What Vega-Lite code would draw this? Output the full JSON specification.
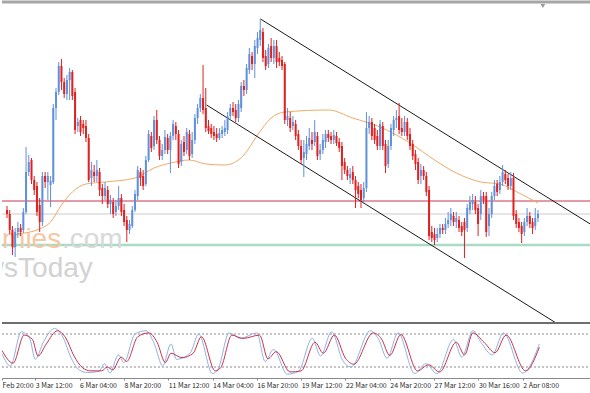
{
"$schema": "https://vega.github.io/schema/vega-lite/v6.json",
"padding": 0,
"spacing": 0,
"background": "white",
"config": {"view": {"stroke": null}, "font": "Liberation Sans"},
"datasets": {
"candles": [
{"i":0,"o":112,"h":116,"l":104,"c":108},{"i":1,"o":108,"h":112,"l":88,"c":92},{"i":2,"o":92,"h":96,"l":67,"c":75},{"i":3,"o":75,"h":94,"l":65,"c":90},{"i":4,"o":90,"h":100,"l":84,"c":94},{"i":5,"o":94,"h":98,"l":86,"c":90},{"i":6,"o":92,"h":114,"l":89,"c":110},{"i":7,"o":110,"h":175,"l":108,"c":150},{"i":8,"o":150,"h":167,"l":146,"c":160},{"i":9,"o":162,"h":164,"l":138,"c":142},
{"i":10,"o":142,"h":146,"l":127,"c":132},{"i":11,"o":136,"h":140,"l":106,"c":110},{"i":12,"o":117,"h":124,"l":90,"c":100},{"i":13,"o":100,"h":150,"l":96,"c":146},{"i":14,"o":146,"h":150,"l":134,"c":140},{"i":15,"o":140,"h":150,"l":122,"c":146},{"i":16,"o":137,"h":146,"l":115,"c":141},{"i":17,"o":140,"h":218,"l":138,"c":214},{"i":18,"o":214,"h":234,"l":202,"c":230},{"i":19,"o":230,"h":260,"l":227,"c":256},
{"i":20,"o":256,"h":263,"l":232,"c":240},{"i":21,"o":240,"h":244,"l":224,"c":228},{"i":22,"o":228,"h":247,"l":222,"c":242},{"i":23,"o":242,"h":254,"l":222,"c":250},{"i":24,"o":250,"h":252,"l":222,"c":226},{"i":25,"o":230,"h":234,"l":188,"c":192},{"i":26,"o":196,"h":204,"l":190,"c":200},{"i":27,"o":202,"h":206,"l":186,"c":190},{"i":28,"o":198,"h":202,"l":188,"c":194},{"i":29,"o":196,"h":202,"l":180,"c":184},
{"i":30,"o":184,"h":188,"l":140,"c":142},{"i":31,"o":144,"h":160,"l":136,"c":152},{"i":32,"o":150,"h":157,"l":140,"c":146},{"i":33,"o":146,"h":162,"l":140,"c":152},{"i":34,"o":150,"h":154,"l":126,"c":132},{"i":35,"o":134,"h":138,"l":118,"c":126},{"i":36,"o":126,"h":140,"l":122,"c":134},{"i":37,"o":132,"h":136,"l":114,"c":118},{"i":38,"o":118,"h":127,"l":108,"c":122},{"i":39,"o":120,"h":124,"l":104,"c":108},
{"i":40,"o":110,"h":122,"l":106,"c":116},{"i":41,"o":116,"h":136,"l":112,"c":124},{"i":42,"o":124,"h":128,"l":106,"c":110},{"i":43,"o":112,"h":118,"l":96,"c":100},{"i":44,"o":102,"h":106,"l":80,"c":92},{"i":45,"o":92,"h":102,"l":88,"c":98},{"i":46,"o":96,"h":116,"l":94,"c":112},{"i":47,"o":112,"h":132,"l":110,"c":128},{"i":48,"o":126,"h":156,"l":122,"c":152},{"i":49,"o":150,"h":154,"l":136,"c":144},
{"i":50,"o":146,"h":152,"l":132,"c":136},{"i":51,"o":138,"h":166,"l":136,"c":162},{"i":52,"o":162,"h":192,"l":160,"c":188},{"i":53,"o":186,"h":190,"l":170,"c":174},{"i":54,"o":176,"h":206,"l":172,"c":202},{"i":55,"o":202,"h":212,"l":178,"c":182},{"i":56,"o":182,"h":186,"l":162,"c":166},{"i":57,"o":166,"h":178,"l":162,"c":172},{"i":58,"o":172,"h":192,"l":168,"c":185},{"i":59,"o":184,"h":188,"l":168,"c":172},
{"i":60,"o":172,"h":190,"l":149,"c":186},{"i":61,"o":186,"h":202,"l":182,"c":198},{"i":62,"o":196,"h":200,"l":182,"c":188},{"i":63,"o":188,"h":192,"l":154,"c":158},{"i":64,"o":160,"h":182,"l":156,"c":178},{"i":65,"o":180,"h":186,"l":166,"c":170},{"i":66,"o":172,"h":194,"l":168,"c":190},{"i":67,"o":188,"h":192,"l":162,"c":166},{"i":68,"o":168,"h":190,"l":164,"c":182},{"i":69,"o":182,"h":208,"l":178,"c":204},
{"i":70,"o":204,"h":218,"l":198,"c":214},{"i":71,"o":214,"h":228,"l":210,"c":224},{"i":72,"o":224,"h":257,"l":208,"c":212},{"i":73,"o":214,"h":234,"l":190,"c":194},{"i":74,"o":196,"h":202,"l":188,"c":191},{"i":75,"o":194,"h":198,"l":184,"c":188},{"i":76,"o":190,"h":196,"l":182,"c":186},{"i":77,"o":188,"h":194,"l":180,"c":184},{"i":78,"o":184,"h":194,"l":182,"c":189},{"i":79,"o":188,"h":196,"l":184,"c":192},
{"i":80,"o":190,"h":202,"l":186,"c":194},{"i":81,"o":192,"h":210,"l":188,"c":206},{"i":82,"o":206,"h":218,"l":202,"c":214},{"i":83,"o":214,"h":220,"l":206,"c":210},{"i":84,"o":212,"h":218,"l":200,"c":204},{"i":85,"o":204,"h":222,"l":200,"c":218},{"i":86,"o":214,"h":240,"l":210,"c":236},{"i":87,"o":236,"h":242,"l":226,"c":232},{"i":88,"o":232,"h":258,"l":228,"c":254},{"i":89,"o":252,"h":274,"l":248,"c":268},
{"i":90,"o":266,"h":270,"l":252,"c":258},{"i":91,"o":258,"h":282,"l":244,"c":276},{"i":92,"o":274,"h":290,"l":268,"c":284},{"i":93,"o":282,"h":303,"l":276,"c":292},{"i":94,"o":290,"h":294,"l":260,"c":264},{"i":95,"o":266,"h":272,"l":252,"c":256},{"i":96,"o":258,"h":278,"l":254,"c":274},{"i":97,"o":276,"h":284,"l":260,"c":264},{"i":98,"o":264,"h":282,"l":258,"c":276},{"i":99,"o":276,"h":282,"l":254,"c":260},
{"i":100,"o":264,"h":270,"l":256,"c":260},{"i":101,"o":262,"h":266,"l":252,"c":256},{"i":102,"o":258,"h":260,"l":198,"c":202},{"i":103,"o":202,"h":214,"l":196,"c":206},{"i":104,"o":204,"h":210,"l":190,"c":194},{"i":105,"o":196,"h":206,"l":192,"c":200},{"i":106,"o":198,"h":202,"l":182,"c":186},{"i":107,"o":188,"h":192,"l":172,"c":176},{"i":108,"o":176,"h":182,"l":158,"c":162},{"i":109,"o":164,"h":182,"l":145,"c":170},
{"i":110,"o":168,"h":186,"l":162,"c":178},{"i":111,"o":176,"h":194,"l":172,"c":184},{"i":112,"o":182,"h":190,"l":172,"c":178},{"i":113,"o":180,"h":202,"l":176,"c":190},{"i":114,"o":186,"h":190,"l":162,"c":166},{"i":115,"o":168,"h":178,"l":162,"c":172},{"i":116,"o":172,"h":188,"l":168,"c":182},{"i":117,"o":180,"h":192,"l":174,"c":188},{"i":118,"o":188,"h":192,"l":180,"c":184},{"i":119,"o":186,"h":190,"l":178,"c":182},
{"i":120,"o":182,"h":192,"l":178,"c":187},{"i":121,"o":186,"h":190,"l":176,"c":179},{"i":122,"o":180,"h":184,"l":170,"c":174},{"i":123,"o":176,"h":180,"l":142,"c":156},{"i":124,"o":160,"h":164,"l":148,"c":152},{"i":125,"o":152,"h":156,"l":142,"c":146},{"i":126,"o":144,"h":154,"l":138,"c":148},{"i":127,"o":150,"h":156,"l":138,"c":142},{"i":128,"o":142,"h":146,"l":114,"c":132},{"i":129,"o":136,"h":140,"l":124,"c":128},
{"i":130,"o":132,"h":138,"l":114,"c":122},{"i":131,"o":124,"h":140,"l":118,"c":134},{"i":132,"o":134,"h":210,"l":130,"c":194},{"i":133,"o":194,"h":206,"l":188,"c":200},{"i":134,"o":200,"h":204,"l":182,"c":186},{"i":135,"o":194,"h":198,"l":178,"c":182},{"i":136,"o":186,"h":192,"l":172,"c":176},{"i":137,"o":176,"h":202,"l":172,"c":198},{"i":138,"o":196,"h":200,"l":172,"c":176},{"i":139,"o":178,"h":182,"l":149,"c":156},
{"i":140,"o":158,"h":182,"l":154,"c":176},{"i":141,"o":176,"h":198,"l":172,"c":194},{"i":142,"o":192,"h":206,"l":186,"c":202},{"i":143,"o":202,"h":212,"l":194,"c":204},{"i":144,"o":206,"h":219,"l":188,"c":192},{"i":145,"o":194,"h":204,"l":186,"c":190},{"i":146,"o":190,"h":206,"l":186,"c":200},{"i":147,"o":200,"h":204,"l":182,"c":186},{"i":148,"o":188,"h":194,"l":172,"c":176},{"i":149,"o":178,"h":182,"l":162,"c":166},
{"i":150,"o":168,"h":172,"l":152,"c":158},{"i":151,"o":160,"h":164,"l":138,"c":142},{"i":152,"o":146,"h":158,"l":138,"c":152},{"i":153,"o":152,"h":156,"l":142,"c":146},{"i":154,"o":146,"h":150,"l":126,"c":130},{"i":155,"o":132,"h":136,"l":82,"c":86},{"i":156,"o":90,"h":96,"l":80,"c":84},{"i":157,"o":88,"h":94,"l":77,"c":82},{"i":158,"o":84,"h":94,"l":80,"c":88},{"i":159,"o":88,"h":98,"l":84,"c":94},
{"i":160,"o":94,"h":98,"l":88,"c":92},{"i":161,"o":92,"h":104,"l":88,"c":98},{"i":162,"o":98,"h":110,"l":94,"c":102},{"i":163,"o":102,"h":114,"l":96,"c":108},{"i":164,"o":106,"h":110,"l":96,"c":100},{"i":165,"o":100,"h":110,"l":94,"c":104},{"i":166,"o":102,"h":106,"l":90,"c":94},{"i":167,"o":96,"h":100,"l":86,"c":90},{"i":168,"o":100,"h":104,"l":64,"c":92},{"i":169,"o":94,"h":118,"l":90,"c":114},
{"i":170,"o":112,"h":126,"l":108,"c":120},{"i":171,"o":118,"h":128,"l":112,"c":122},{"i":172,"o":120,"h":126,"l":108,"c":112},{"i":173,"o":114,"h":118,"l":86,"c":98},{"i":174,"o":108,"h":132,"l":102,"c":126},{"i":175,"o":126,"h":130,"l":118,"c":122},{"i":176,"o":126,"h":130,"l":85,"c":90},{"i":177,"o":96,"h":114,"l":86,"c":108},{"i":178,"o":108,"h":130,"l":104,"c":126},{"i":179,"o":126,"h":142,"l":122,"c":136},
{"i":180,"o":138,"h":142,"l":126,"c":130},{"i":181,"o":132,"h":146,"l":128,"c":140},{"i":182,"o":140,"h":157,"l":136,"c":150},{"i":183,"o":148,"h":152,"l":138,"c":142},{"i":184,"o":144,"h":148,"l":132,"c":136},{"i":185,"o":136,"h":150,"l":132,"c":144},{"i":186,"o":144,"h":149,"l":102,"c":106},{"i":187,"o":108,"h":112,"l":94,"c":98},{"i":188,"o":100,"h":104,"l":90,"c":94},{"i":189,"o":96,"h":100,"l":79,"c":88},
{"i":190,"o":90,"h":104,"l":86,"c":100},{"i":191,"o":100,"h":114,"l":96,"c":106},{"i":192,"o":106,"h":110,"l":94,"c":98},{"i":193,"o":100,"h":104,"l":88,"c":94},{"i":194,"o":96,"h":114,"l":92,"c":104},{"i":195,"o":104,"h":112,"l":100,"c":108}
],
"ma": [
{"i":3.6,"v":88},{"i":12,"v":93},{"i":16,"v":100},{"i":20,"v":117},{"i":24,"v":130},{"i":29,"v":138},{"i":36,"v":140},{"i":47,"v":144},{"i":54,"v":154},{"i":60,"v":159},{"i":67,"v":162},{"i":73,"v":158},{"i":80,"v":157},{"i":87,"v":167},{"i":92,"v":187},{"i":97,"v":204},{"i":102,"v":210},{"i":118,"v":212},{"i":127,"v":204},{"i":137,"v":195},{"i":148,"v":179},{"i":157,"v":162},{"i":165,"v":149},{"i":174,"v":140},{"i":181,"v":138},{"i":188,"v":129},{"i":195,"v":119}
],
"channel": [
{"line":"upper","i":93.1,"p":303},{"line":"upper","i":215,"p":96.6},
{"line":"lower","i":73.3,"p":217},{"line":"lower","i":204,"p":-5}
],
"stoch": [
{"s":"K","i":0,"v":44},{"s":"K","i":3,"v":22},{"s":"K","i":7,"v":84},{"s":"K","i":10,"v":72},{"s":"K","i":12,"v":34},{"s":"K","i":15,"v":66},{"s":"K","i":19,"v":90},{"s":"K","i":22,"v":74},{"s":"K","i":25,"v":36},{"s":"K","i":28,"v":14},{"s":"K","i":31,"v":10},{"s":"K","i":35,"v":12},{"s":"K","i":37,"v":26},{"s":"K","i":39,"v":9},{"s":"K","i":42,"v":42},{"s":"K","i":44,"v":28},{"s":"K","i":48,"v":80},{"s":"K","i":52,"v":86},{"s":"K","i":55,"v":62},{"s":"K","i":58,"v":22},{"s":"K","i":61,"v":62},{"s":"K","i":63,"v":34},{"s":"K","i":68,"v":46},{"s":"K","i":71,"v":80},{"s":"K","i":76,"v":8},{"s":"K","i":78,"v":16},{"s":"K","i":82,"v":82},{"s":"K","i":86,"v":72},{"s":"K","i":92,"v":82},{"s":"K","i":95,"v":30},{"s":"K","i":98,"v":52},{"s":"K","i":103,"v":7},{"s":"K","i":107,"v":12},{"s":"K","i":112,"v":72},{"s":"K","i":115,"v":40},{"s":"K","i":119,"v":84},{"s":"K","i":123,"v":32},{"s":"K","i":126,"v":20},{"s":"K","i":133,"v":86},{"s":"K","i":136,"v":70},{"s":"K","i":139,"v":36},{"s":"K","i":143,"v":82},{"s":"K","i":149,"v":8},{"s":"K","i":153,"v":26},{"s":"K","i":157,"v":8},{"s":"K","i":163,"v":70},{"s":"K","i":166,"v":38},{"s":"K","i":170,"v":86},{"s":"K","i":173,"v":64},{"s":"K","i":177,"v":42},{"s":"K","i":181,"v":82},{"s":"K","i":188,"v":9},{"s":"K","i":194,"v":62},
{"s":"D","i":0,"v":50},{"s":"D","i":4,"v":27},{"s":"D","i":8,"v":78},{"s":"D","i":11,"v":70},{"s":"D","i":13,"v":40},{"s":"D","i":16,"v":62},{"s":"D","i":20,"v":86},{"s":"D","i":23,"v":73},{"s":"D","i":26,"v":40},{"s":"D","i":29,"v":19},{"s":"D","i":32,"v":13},{"s":"D","i":36,"v":13},{"s":"D","i":38,"v":20},{"s":"D","i":40,"v":15},{"s":"D","i":43,"v":38},{"s":"D","i":45,"v":30},{"s":"D","i":49,"v":75},{"s":"D","i":53,"v":82},{"s":"D","i":56,"v":65},{"s":"D","i":59,"v":28},{"s":"D","i":61,"v":45},{"s":"D","i":65,"v":37},{"s":"D","i":69,"v":45},{"s":"D","i":72,"v":75},{"s":"D","i":77,"v":13},{"s":"D","i":79,"v":19},{"s":"D","i":83,"v":78},{"s":"D","i":87,"v":72},{"s":"D","i":93,"v":78},{"s":"D","i":96,"v":35},{"s":"D","i":99,"v":48},{"s":"D","i":104,"v":11},{"s":"D","i":108,"v":13},{"s":"D","i":113,"v":65},{"s":"D","i":116,"v":45},{"s":"D","i":120,"v":78},{"s":"D","i":124,"v":36},{"s":"D","i":127,"v":25},{"s":"D","i":134,"v":82},{"s":"D","i":137,"v":71},{"s":"D","i":140,"v":41},{"s":"D","i":144,"v":79},{"s":"D","i":150,"v":13},{"s":"D","i":154,"v":24},{"s":"D","i":158,"v":11},{"s":"D","i":164,"v":65},{"s":"D","i":167,"v":42},{"s":"D","i":170,"v":82},{"s":"D","i":174,"v":65},{"s":"D","i":178,"v":46},{"s":"D","i":182,"v":78},{"s":"D","i":189,"v":13},{"s":"D","i":194,"v":56}
]
},
"vconcat": [
{
"width": 590,
"height": 320,
"layer": [
{"data": {"values": [{}]}, "mark": {"type": "rule", "color": "#a8dcc4", "strokeWidth": 2.5}, "encoding": {"y": {"datum": 77, "type": "quantitative", "scale": {"domain": [0, 320], "nice": false, "zero": false}, "axis": null}}},
{"data": {"values": [{}]}, "mark": {"type": "rule", "color": "#cccccc", "strokeWidth": 1}, "encoding": {"y": {"datum": 108, "type": "quantitative", "scale": {"domain": [0, 320], "nice": false, "zero": false}, "axis": null}}},
{"data": {"values": [{}]}, "mark": {"type": "rule", "color": "#c8374a", "strokeWidth": 1}, "encoding": {"y": {"datum": 121, "type": "quantitative", "scale": {"domain": [0, 320], "nice": false, "zero": false}, "axis": null}}},
{"data": {"values": [{}]}, "mark": {"type": "text", "text": "economies", "align": "right", "baseline": "alphabetic", "fontSize": 28, "font": "Liberation Sans", "color": "#f5c7a4", "clip": true}, "encoding": {"x": {"datum": 19.9, "type": "quantitative", "scale": {"domain": [0, 213], "nice": false, "zero": false}, "axis": null}, "y": {"datum": 74, "type": "quantitative", "scale": {"domain": [0, 320], "nice": false, "zero": false}, "axis": null}}},
{"data": {"values": [{}]}, "mark": {"type": "text", "text": ".com", "align": "left", "baseline": "alphabetic", "fontSize": 28, "font": "Liberation Sans", "color": "#d8d8d8", "clip": true}, "encoding": {"x": {"datum": 20.2, "type": "quantitative", "scale": {"domain": [0, 213], "nice": false, "zero": false}, "axis": null}, "y": {"datum": 74, "type": "quantitative", "scale": {"domain": [0, 320], "nice": false, "zero": false}, "axis": null}}},
{"data": {"values": [{}]}, "mark": {"type": "text", "text": "NewsToday", "align": "right", "baseline": "alphabetic", "fontSize": 28, "font": "Liberation Sans", "color": "#d2d2d2", "clip": true}, "encoding": {"x": {"datum": 31.5, "type": "quantitative", "scale": {"domain": [0, 213], "nice": false, "zero": false}, "axis": null}, "y": {"datum": 45, "type": "quantitative", "scale": {"domain": [0, 320], "nice": false, "zero": false}, "axis": null}}},
{"data": {"name": "ma"}, "mark": {"type": "line", "color": "#efaa68", "strokeWidth": 1, "interpolate": "monotone", "clip": true}, "encoding": {"x": {"field": "i", "type": "quantitative", "scale": {"domain": [0, 213], "nice": false, "zero": false}, "axis": null}, "y": {"field": "v", "type": "quantitative", "scale": {"domain": [0, 320], "nice": false, "zero": false}, "axis": null}}},
{"data": {"name": "channel"}, "mark": {"type": "line", "color": "#1a1a1a", "strokeWidth": 1, "clip": true}, "encoding": {"x": {"field": "i", "type": "quantitative", "scale": {"domain": [0, 213], "nice": false, "zero": false}, "axis": null}, "y": {"field": "p", "type": "quantitative", "scale": {"domain": [0, 320], "nice": false, "zero": false}, "axis": null}, "detail": {"field": "line"}}},
{"data": {"name": "candles"}, "mark": {"type": "rule", "strokeWidth": 1, "clip": true}, "encoding": {"x": {"field": "i", "type": "quantitative", "scale": {"domain": [0, 213], "nice": false, "zero": false}, "axis": null}, "y": {"field": "l", "type": "quantitative", "scale": {"domain": [0, 320], "nice": false, "zero": false}, "axis": null}, "y2": {"field": "h"}, "color": {"condition": {"test": "datum.c >= datum.o", "value": "#5f90dc"}, "value": "#e2201f"}}},
{"data": {"name": "candles"}, "mark": {"type": "bar", "size": 2, "clip": true}, "encoding": {"x": {"field": "i", "type": "quantitative", "scale": {"domain": [0, 213], "nice": false, "zero": false}, "axis": null}, "y": {"field": "o", "type": "quantitative", "scale": {"domain": [0, 320], "nice": false, "zero": false}, "axis": null}, "y2": {"field": "c"}, "color": {"condition": {"test": "datum.c >= datum.o", "value": "#5f90dc"}, "value": "#e2201f"}}},
{"data": {"values": [{}]}, "mark": {"type": "rule", "color": "#a6a6a6", "strokeWidth": 3}, "encoding": {"y": {"datum": 320, "type": "quantitative", "scale": {"domain": [0, 320], "nice": false, "zero": false}, "axis": null}}},
{"data": {"values": [{}]}, "mark": {"type": "point", "shape": "triangle-down", "filled": true, "size": 22, "color": "#9a9a9a", "opacity": 1}, "encoding": {"x": {"datum": 196.8, "type": "quantitative", "scale": {"domain": [0, 213], "nice": false, "zero": false}, "axis": null}, "y": {"datum": 316, "type": "quantitative", "scale": {"domain": [0, 320], "nice": false, "zero": false}, "axis": null}}}
]
},
{
"width": 590,
"height": 55,
"data": {"name": "stoch"},
"encoding": {
"x": {"field": "i", "type": "quantitative", "scale": {"domain": [0, 213], "nice": false, "zero": false}, "axis": {"title": null, "grid": false, "values": [0, 12, 28, 44, 60, 76, 92, 108, 124, 140, 156, 172, 188], "labelExpr": "datum.value == 0 ? 'Feb 20:00' : datum.value == 12 ? '3 Mar 12:00' : datum.value == 28 ? '6 Mar 04:00' : datum.value == 44 ? '8 Mar 20:00' : datum.value == 60 ? '11 Mar 12:00' : datum.value == 76 ? '14 Mar 04:00' : datum.value == 92 ? '16 Mar 20:00' : datum.value == 108 ? '19 Mar 12:00' : datum.value == 124 ? '22 Mar 04:00' : datum.value == 140 ? '24 Mar 20:00' : datum.value == 156 ? '27 Mar 12:00' : datum.value == 172 ? '30 Mar 16:00' : '2 Apr 08:00'", "labelAlign": "left", "labelBaseline": "top", "labelPadding": 1, "labelFontSize": 7, "labelFont": "Noto Sans CJK SC", "labelColor": "#2a2a2a", "labelOverlap": false, "labelFlush": false, "tickSize": 2, "tickColor": "#8a8a8a", "domainColor": "#8a8a8a"}},
"y": {"field": "v", "type": "quantitative", "scale": {"domain": [0, 100], "nice": false, "zero": false}, "axis": null}
},
"layer": [
{"mark": {"type": "rule", "color": "#c4c4c4", "strokeWidth": 1, "strokeDash": [2, 2]}, "encoding": {"x": {"value": 0}, "x2": {"value": 590}, "y": {"datum": 20, "type": "quantitative"}}},
{"mark": {"type": "rule", "color": "#c4c4c4", "strokeWidth": 1, "strokeDash": [2, 2]}, "encoding": {"x": {"value": 0}, "x2": {"value": 590}, "y": {"datum": 80, "type": "quantitative"}}},
{"transform": [{"filter": "datum.s == 'K'"}], "mark": {"type": "line", "color": "#8fb2e2", "strokeWidth": 1, "interpolate": "monotone", "clip": true}},
{"transform": [{"filter": "datum.s == 'D'"}], "mark": {"type": "line", "color": "#c8324a", "strokeWidth": 1, "interpolate": "monotone", "clip": true}},
{"mark": {"type": "rule", "color": "#6e6e6e", "strokeWidth": 2}, "encoding": {"x": {"value": 0}, "x2": {"value": 590}, "y": {"datum": 100, "type": "quantitative"}}}
]
}
]
}
